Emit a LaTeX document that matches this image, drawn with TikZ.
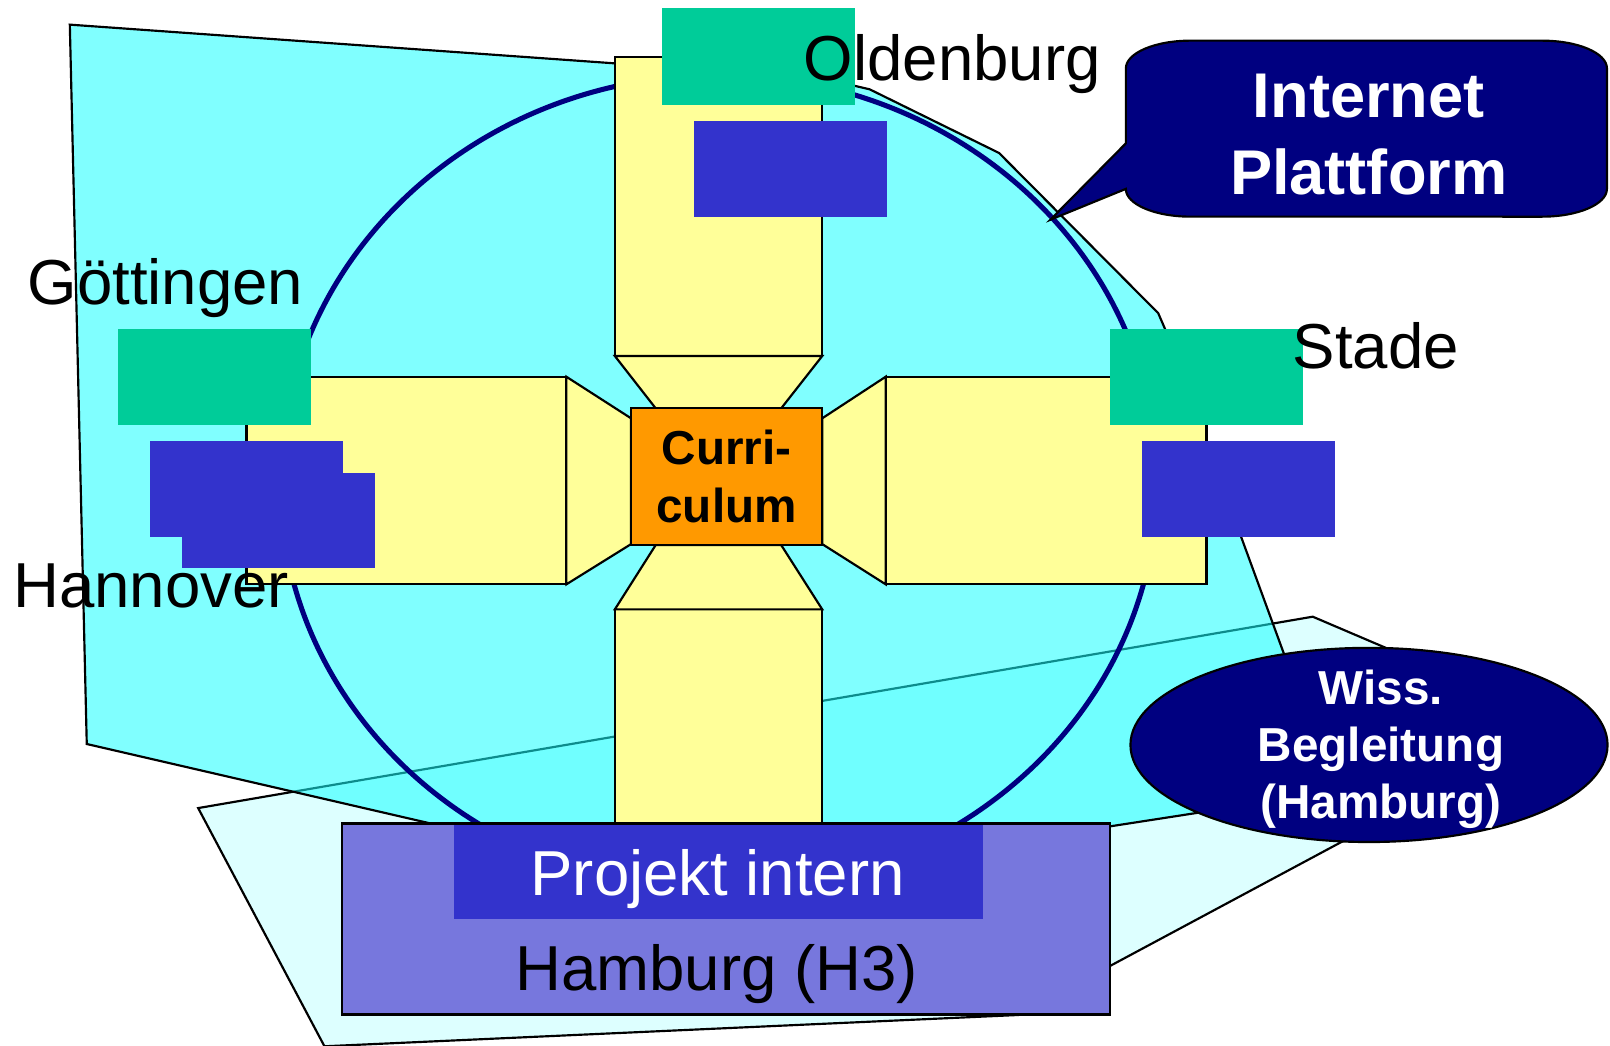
\documentclass[tikz,border=0pt]{standalone}
\usepackage{fontspec}
\setmainfont{Liberation Sans}
\usetikzlibrary{shapes.geometric}
\definecolor{cyanfill}{RGB}{24,255,255}
\definecolor{palecyan}{RGB}{221,255,255}
\definecolor{armyellow}{RGB}{255,255,153}
\definecolor{currorange}{RGB}{255,153,0}
\definecolor{sitegreen}{RGB}{0,204,153}
\definecolor{siteblue}{RGB}{51,51,204}
\definecolor{hhblue}{RGB}{119,119,221}
\definecolor{navyblue}{RGB}{0,0,128}
\begin{document}
\begin{tikzpicture}[x=0.01cm, y=-0.01cm, every node/.style={inner sep=0pt, outer sep=0pt}]
	\tikzset{outline/.style={draw=black, line width=0.6pt},
		arm/.style={fill=armyellow, draw=black, line width=0.6pt},
		greenbox/.style={fill=sitegreen, minimum width=1.875cm, minimum height=0.94cm},
		bluebox/.style={fill=siteblue, minimum width=1.88cm, minimum height=0.93cm},
		place/.style={font=\fontsize{17.6}{20}\selectfont, anchor=base west},
		whitebold/.style={text=white, font=\bfseries\fontsize{13.2}{15.9}\selectfont, align=center},
		corner/.style={x radius=0.63cm, y radius=0.27cm}}
	\useasboundingbox (0,0) rectangle (1568,1018);
	\fill[white] (0,0) rectangle (1568,1018);
	\draw[outline, fill=palecyan] (193,787) -- (1278.5,600.6) -- (1522,704.5) -- (992,988.5) -- (316,1019) -- cycle;
	\draw[outline, fill=cyanfill, fill opacity=0.55] (68,24) -- (800,76) -- (847,87) -- (973,149) -- (1128,305) -- (1134.5,320) -- (1299.6,771) -- (692,865) -- (84.5,724.6) -- cycle;
	\draw[navyblue, line width=1.4pt] (700,470) ellipse [x radius=427, y radius=397];
	\foreach \a/\b in {{598.8,55.2}/{800.8,346.7}, {240,366.9}/{551.6,569.1}, {862.6,366.9}/{1175,569.1}, {598.8,593.5}/{800.8,805}}
	\draw[arm] (\a) rectangle (\b);
	\draw[arm] (598.8,346.7) -- (800.8,346.7) -- (760.8,397.7) -- (638.6,397.7) -- cycle;
	\draw[arm] (598.8,593.5) -- (800.8,593.5) -- (760.8,530.8) -- (638.6,530.8) -- cycle;
	\draw[arm] (551.6,366.9) -- (614.6,407.4) -- (614.6,529.9) -- (551.6,569.1) -- cycle;
	\draw[arm] (862.6,366.9) -- (800.8,407.4) -- (800.8,529.9) -- (862.6,569.1) -- cycle;
	\node[draw=black, line width=0.6pt, fill=currorange, minimum width=1.862cm, minimum height=1.331cm, font=\bfseries\fontsize{13.2}{15.9}\selectfont, align=center] (curr) at (707.7,464.2) {Curri-\\culum};
	\foreach \n/\x/\y in {gold/738.5/55, ggoe/209/367.2, gsta/1174.9/367.2}
	\node[greenbox] (\n) at (\x,\y) {};
	\foreach \n/\x/\y in {bold/769.5/164.5, bgoe/240/476.1, bhan/271.4/507, bsta/1206.2/476.1}
	\node[bluebox] (\n) at (\x,\y) {};
	\node[draw=black, line width=0.6pt, fill=hhblue, minimum width=7.48cm, minimum height=1.86cm] (hh) at (707,895) {};
	\node[fill=siteblue, minimum width=5.145cm, minimum height=0.915cm] (intern) at (699.5,849.3) {};
	\node[place, anchor=base, text=white] (interntxt) at (699,871.7) {Projekt intern};
	\node[place, anchor=base] (hhtxt) at (698,964.3) {Hamburg (H3)};
	\draw[fill=navyblue, draw=black, line width=0.6pt] (1096.5,139.6) -- (1096.5,66.6) arc[start angle=180, end angle=90, corner] -- (1502,39.6) arc[start angle=90, end angle=0, corner] -- (1565,184) arc[start angle=0, end angle=-90, corner] -- (1159.5,211) arc[start angle=-90, end angle=-180, corner] -- (1023,214) -- cycle;
	\node[text=white, font=\bfseries\fontsize{17.5}{21.2}\selectfont, align=center] (inet) at (1333,131) {Internet\\Plattform};
	\node[ellipse, draw=black, line width=0.6pt, fill=navyblue, minimum width=4.644cm, minimum height=1.89cm] (wiss) at (1333.3,725.5) {};
	\node[whitebold] (wisstxt) at (1345,729.8) {Wiss.\\Begleitung\\(Hamburg)};
	\node[place] (old) at (783,78) {Oldenburg};
	\node[place] (goe) at (27,297) {Göttingen};
	\node[place] (sta) at (1259,359) {Stade};
	\node[place] (han) at (13,592) {Hannover};
\end{tikzpicture}
\end{document}
